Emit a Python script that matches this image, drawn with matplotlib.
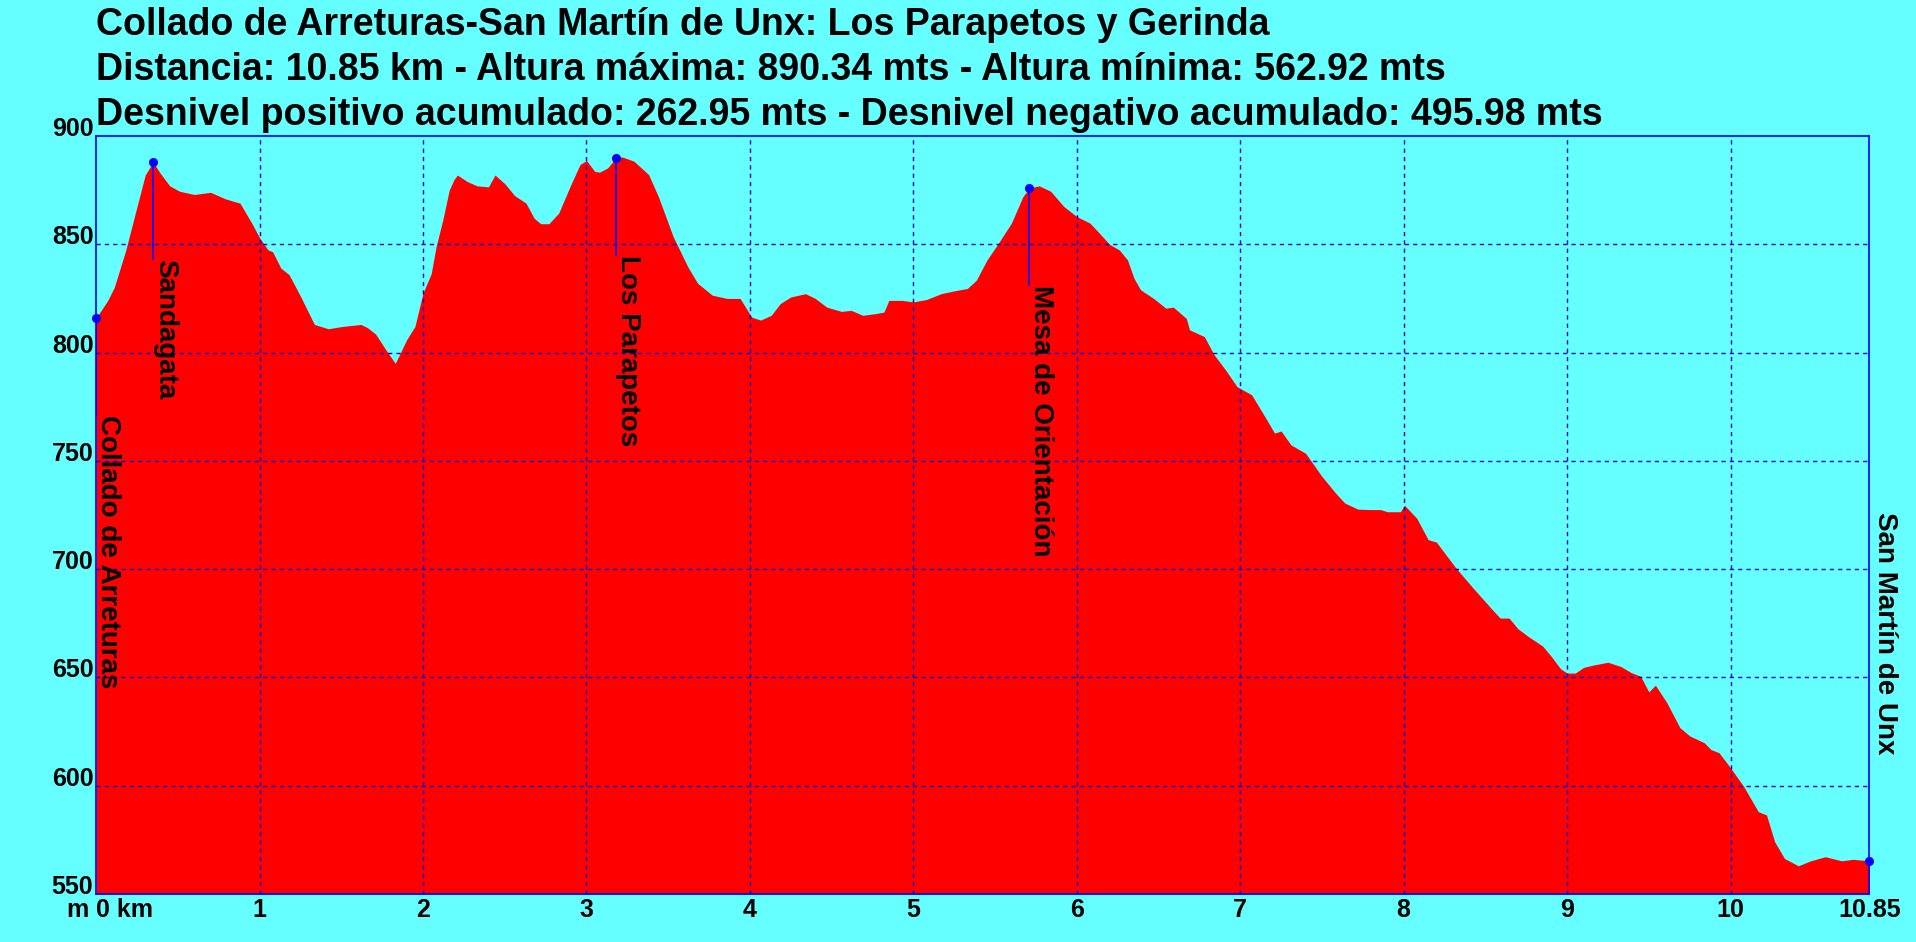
import matplotlib
matplotlib.use("Agg")
import matplotlib.pyplot as plt
from matplotlib.transforms import offset_copy

# perfil: distancia (km) y altura (m)
dist_km = [0.00, 0.07, 0.11, 0.18, 0.245, 0.30, 0.348, 0.39, 0.45, 0.51,
           0.60, 0.70, 0.79, 0.88, 0.95, 1.00, 1.05, 1.08, 1.13, 1.18,
           1.25, 1.335, 1.42, 1.50, 1.62, 1.66, 1.71, 1.775, 1.83, 1.90,
           1.95, 2.00, 2.05, 2.08, 2.12, 2.16, 2.19, 2.21, 2.27, 2.33,
           2.40, 2.44, 2.50, 2.56, 2.63, 2.68, 2.72, 2.77, 2.83, 2.90,
           2.96, 3.00, 3.05, 3.08, 3.13, 3.18, 3.22, 3.29, 3.38, 3.44,
           3.53, 3.62, 3.68, 3.77, 3.86, 3.94, 4.01, 4.065, 4.13, 4.185,
           4.25, 4.34, 4.40, 4.47, 4.56, 4.62, 4.69, 4.77, 4.82, 4.85,
           4.93, 5.00, 5.08, 5.17, 5.25, 5.33, 5.385, 5.45, 5.52, 5.60,
           5.67, 5.71, 5.77, 5.84, 5.92, 6.00, 6.08, 6.14, 6.20, 6.26,
           6.31, 6.35, 6.39, 6.47, 6.545, 6.59, 6.67, 6.69, 6.78, 6.84,
           6.91, 6.98, 7.07, 7.15, 7.21, 7.25, 7.31, 7.40, 7.50, 7.585,
           7.64, 7.72, 7.80, 7.86, 7.90, 7.98, 8.005, 8.08, 8.15, 8.20,
           8.32, 8.43, 8.54, 8.59, 8.645, 8.70, 8.77, 8.85, 8.90, 8.96,
           9.00, 9.05, 9.10, 9.16, 9.25, 9.33, 9.39, 9.45, 9.50, 9.54,
           9.61, 9.69, 9.75, 9.84, 9.88, 9.93, 10.00, 10.08, 10.17, 10.22,
           10.27, 10.33, 10.415, 10.49, 10.58, 10.68, 10.75, 10.85]
elev_m = [816, 824, 830, 847, 866, 882, 888, 883, 877, 874.5,
          873, 874, 871, 869, 860, 853, 847.5, 846.5, 839, 836,
          826, 813, 811, 812, 813, 811.5, 808.5, 801, 795, 806,
          812, 827.5, 836.5, 849, 861, 875, 880, 882, 879, 877,
          876.5, 882, 878, 872.5, 869, 862, 859.5, 859.5, 864.4, 876.8,
          886.8, 888.7, 883.7, 883.3, 885.3, 890, 890.3, 888.4, 882.2, 872,
          853.6, 839.6, 832, 826.5, 825, 825, 816.4, 815, 817.2, 822.6,
          825.7, 827.2, 825, 821, 819, 819.5, 817.2, 818, 818.7, 824.1,
          824.1, 823.4, 824.5, 827.2, 828.5, 829.6, 833.4, 842.7, 850.5, 859.8,
          872, 876, 877, 874.5, 867.5, 862.8, 859.8, 855, 850, 847.4,
          842.8, 834.3, 829, 825, 820.5, 821, 815.8, 810.5, 807.4, 799,
          792, 784.3, 780.5, 770.5, 762.8, 763.8, 757.4, 753.5, 742.8, 735,
          730.5, 727.7, 727.5, 727.5, 726.5, 726.5, 729.5, 723.5, 713.6, 712.5,
          700.5, 690.8, 681.5, 677.4, 677.4, 672.4, 668.5, 664.5, 660, 654,
          652, 652, 654.6, 655.7, 657, 655, 652.3, 650.5, 643.3, 646.4,
          638.4, 626.8, 623, 619.8, 616.7, 615.2, 608.2, 599.7, 588, 586.5,
          574.1, 566.4, 563, 565.3, 567.2, 565.3, 566, 565.3]

# puntos de paso
wp_names = ["Collado de Arreturas", "Sandagata", "Los Parapetos",
            "Mesa de Orientación", "San Martín de Unx"]
wp_km = [0.0, 0.348, 3.18, 5.71, 10.85]
wp_elev = [816, 888, 890, 876, 565.3]

x_ticks = [0, 1, 2, 3, 4, 5, 6, 7, 8, 9, 10, 10.85]
x_labels = ["0 km", "1", "2", "3", "4", "5", "6", "7", "8", "9", "10", "10.85"]
y_ticks = [550, 600, 650, 700, 750, 800, 850, 900]

title_lines = [
    "Collado de Arreturas-San Martín de Unx: Los Parapetos y Gerinda",
    "Distancia: 10.85 km - Altura máxima: 890.34 mts - Altura mínima: 562.92 mts",
    "Desnivel positivo acumulado: 262.95 mts - Desnivel negativo acumulado: 495.98 mts",
]

bg = "#66FFFF"
plt.rcParams['font.family'] = ['Liberation Sans', 'DejaVu Sans']
plt.rcParams['font.weight'] = 'bold'

fig = plt.figure(figsize=(19.16, 9.42), dpi=100, facecolor=bg)
ax = fig.add_axes([0.0502, 0.051, 0.9255, 0.8046])
ax.set_facecolor(bg)

ax.fill_between(dist_km, 550, elev_m, color="#FF0000", linewidth=0, zorder=2)

ax.set_xlim(0, 10.85)
ax.set_ylim(550, 900)

# rejilla
for x in range(1, 11):
    ax.axvline(x, color="#0000CC", linewidth=1, linestyle=(0, (3, 3)), zorder=3)
for y in y_ticks[1:-1]:
    ax.axhline(y, color="#0000CC", linewidth=1, linestyle=(0, (3, 3)), zorder=3)

for s in ax.spines.values():
    s.set_color("#0000FF")
    s.set_linewidth(1.2)
    s.set_zorder(5)

tick_fs = 18
ax.set_xticks(x_ticks)
ax.set_xticklabels(x_labels, fontsize=tick_fs, fontweight='bold')
ax.set_yticks(y_ticks)
ax.set_yticklabels([str(v) for v in y_ticks], fontsize=tick_fs, fontweight='bold')
ax.tick_params(axis='both', length=0)
ax.tick_params(axis='x', pad=3)
ax.tick_params(axis='y', pad=2)
ax.get_xticklabels()[0].set_horizontalalignment('left')
for lab in ax.get_yticklabels():
    lab.set_verticalalignment('baseline')

# unidad "m" a la izquierda del 0, en la misma linea que "0 km"
ax.text(0, 550, "m", ha='right', va='top', fontsize=tick_fs, fontweight='bold',
        clip_on=False,
        transform=offset_copy(ax.transData, fig=fig, x=-8, y=-4.2, units='dots'))

# puntos de paso con su linea y etiqueta vertical
for i, (name, km, el) in enumerate(zip(wp_names, wp_km, wp_elev)):
    if i == len(wp_names) - 1:
        ytxt = el + 161
        ax.text(km, ytxt, name, rotation=-90, ha='left', va='top',
                fontsize=20, fontweight='bold', zorder=6, clip_on=False,
                transform=offset_copy(ax.transData, fig=fig, x=3, y=0, units='dots'))
    else:
        ytxt = el - 45
        ax.plot([km, km], [el, ytxt], color="#0000FF", linewidth=1.2, zorder=6)
        ax.text(km, ytxt, name, rotation=-90, ha='left', va='top',
                fontsize=20, fontweight='bold', zorder=6,
                transform=offset_copy(ax.transData, fig=fig, x=-1, y=0, units='dots'))
    ax.plot([km], [el], 'o', color="#0000FF", markersize=5.5, zorder=7, clip_on=False)

# titulo en tres lineas
title_y = [0.9628, 0.9151, 0.8673]
for line, ty in zip(title_lines, title_y):
    fig.text(0.0502, ty, line, ha='left', va='baseline',
             fontsize=27, fontweight='bold')

fig.savefig("out.png", dpi=100, facecolor=bg)
